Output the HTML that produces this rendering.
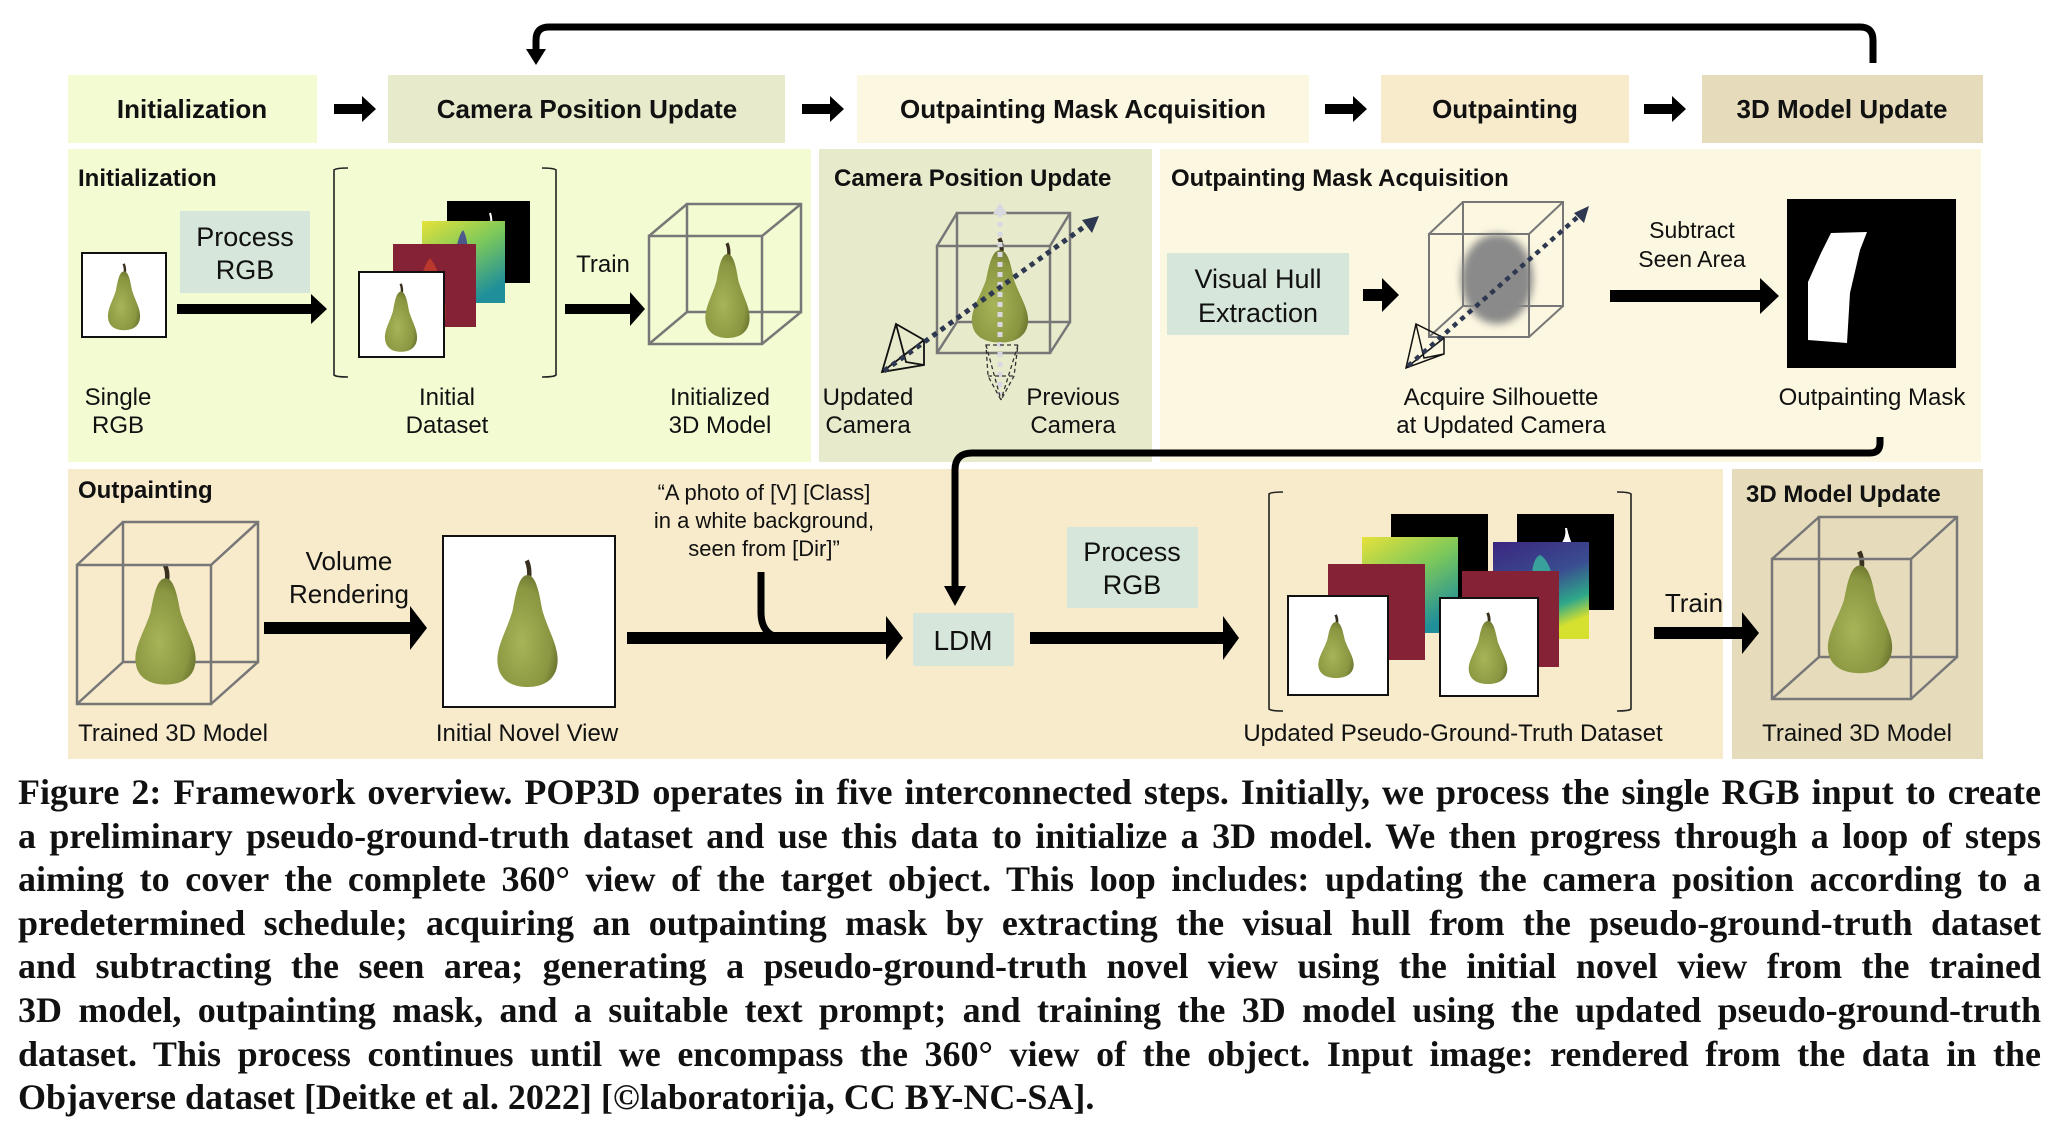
<!DOCTYPE html>
<html><head><meta charset="utf-8"><style>
html,body{margin:0;padding:0;background:#fff;}
body{width:2052px;height:1134px;position:relative;overflow:hidden;}
svg{position:absolute;left:0;top:0;}
svg text{font-family:"Liberation Sans",Arial,sans-serif;fill:#111;}
.cap{position:absolute;left:18px;width:2023px;top:771px;font-family:"Liberation Serif",serif;font-weight:bold;font-size:36px;line-height:43.6px;color:#111;}
.cap div{text-align:justify;text-align-last:justify;white-space:nowrap;}
.cap div.last{text-align-last:left;}
</style></head><body>
<svg width="2052" height="1134" viewBox="0 0 2052 1134" xmlns="http://www.w3.org/2000/svg">
<defs>
<radialGradient id="pg" cx="0.4" cy="0.6" r="0.7">
<stop offset="0" stop-color="#a8b458"/><stop offset="0.7" stop-color="#8a9640"/><stop offset="1" stop-color="#5e6628"/>
</radialGradient>
<g id="pear">
<path d="M49,2 C52,8 53,16 52,24" stroke="#3a3020" stroke-width="6" fill="none"/>
<path d="M50,20 C38,20 34,45 30,65 C22,90 8,110 10,130 C12,152 30,160 50,160 C70,160 88,152 90,130 C92,110 78,90 70,65 C66,45 62,20 50,20 Z" fill="url(#pg)"/>
</g>
<linearGradient id="yg" x1="0" y1="0" x2="0.6" y2="1"><stop offset="0" stop-color="#e6e23a"/><stop offset="0.5" stop-color="#7cc85a"/><stop offset="1" stop-color="#1f8f9a"/></linearGradient>
<linearGradient id="vg" x1="0" y1="0" x2="0.4" y2="1"><stop offset="0" stop-color="#3b2680"/><stop offset="0.5" stop-color="#3a4d90"/><stop offset="0.8" stop-color="#2ea88a"/><stop offset="1" stop-color="#d6e02e"/></linearGradient>
<filter id="bl"><feGaussianBlur stdDeviation="4"/></filter>
</defs>

<path d="M1873,63 V40 Q1873,27 1860,27 H549 Q536,27 536,40 V50" stroke="#000" stroke-width="7" fill="none"/>
<polygon points="526,49 546,49 536,65" fill="#000"/>

<rect x="68" y="75" width="249" height="68" fill="#f3fbd3"/>
<rect x="388" y="75" width="397" height="68" fill="#e8ebcb"/>
<rect x="857" y="75" width="452" height="68" fill="#fcf7e0"/>
<rect x="1381" y="75" width="248" height="68" fill="#f8ebcc"/>
<rect x="1702" y="75" width="281" height="68" fill="#e6dcbc"/>
<g font-size="26" font-weight="bold" text-anchor="middle">
<text x="192" y="118">Initialization</text>
<text x="587" y="118">Camera Position Update</text>
<text x="1083" y="118">Outpainting Mask Acquisition</text>
<text x="1505" y="118">Outpainting</text>
<text x="1842" y="118">3D Model Update</text>
</g>
<g fill="#000">
<polygon points="334,104 362,104 362,96 376,109 362,122 362,114 334,114"/>
<polygon points="802,104 830,104 830,96 844,109 830,122 830,114 802,114"/>
<polygon points="1325,104 1353,104 1353,96 1367,109 1353,122 1353,114 1325,114"/>
<polygon points="1644,104 1672,104 1672,96 1686,109 1672,122 1672,114 1644,114"/>
</g>

<rect x="68" y="149" width="743" height="313" fill="#f3fbd3"/>
<rect x="819" y="149" width="333" height="313" fill="#e8ebcb"/>
<rect x="1160" y="149" width="821" height="313" fill="#fcf7e0"/>

<g font-size="24" font-weight="bold">
<text x="78" y="186">Initialization</text>
<text x="834" y="186">Camera Position Update</text>
<text x="1171" y="186">Outpainting Mask Acquisition</text>
</g>

<rect x="82" y="253" width="84" height="84" fill="#fff" stroke="#111" stroke-width="2"/>
<use href="#pear" transform="translate(104,263) scale(0.4,0.42)"/>
<rect x="180" y="211" width="130" height="82" fill="#d6e6da"/>
<text x="245" y="246" font-size="27" text-anchor="middle">Process</text>
<text x="245" y="279" font-size="27" text-anchor="middle">RGB</text>
<polygon points="177,304 311,304 311,294 327,309 311,324 311,314 177,314" fill="#000"/>
<path d="M348,168 Q336,168 334,170 V375 Q336,377 348,377 M542,168 Q554,168 556,170 V375 Q554,377 542,377" stroke="#222" stroke-width="1.6" fill="none"/>
<rect x="447" y="201" width="83" height="82" fill="#000"/>
<path d="M490,213 q2,6 1,12" stroke="#fff" stroke-width="2"/>
<rect x="422" y="221" width="83" height="82" fill="url(#yg)"/>
<path d="M463,230 C455,240 452,270 460,300 L470,300 C468,270 470,240 463,230Z" fill="#3a3a9a" opacity="0.8"/>
<rect x="393" y="244" width="83" height="83" fill="#862235"/>
<path d="M430,258 C420,270 415,300 425,322 L445,322 C448,300 440,270 430,258Z" fill="#c8402a" opacity="0.8"/>
<rect x="359" y="272" width="85" height="85" fill="#fff" stroke="#111" stroke-width="2"/>
<use href="#pear" transform="translate(381,283) scale(0.4,0.43)"/>
<text x="603" y="272" font-size="24" text-anchor="middle">Train</text>
<polygon points="565,304 630,304 630,292 645,309 630,326 630,314 565,314" fill="#000"/>
<g stroke="#777" stroke-width="2.5" fill="none">
<rect x="687" y="204" width="114" height="108"/>
<rect x="649" y="236" width="113" height="108"/>
<path d="M649,236 L687,204 M762,236 L801,204 M649,344 L687,312 M762,344 L801,312"/>
</g>
<use href="#pear" transform="translate(700,242) scale(0.55,0.6)"/>
<g font-size="24" text-anchor="middle">
<text x="118" y="405">Single</text><text x="118" y="433">RGB</text>
<text x="447" y="405">Initial</text><text x="447" y="433">Dataset</text>
<text x="720" y="405">Initialized</text><text x="720" y="433">3D Model</text>
</g>

<g stroke="#777" stroke-width="2.5" fill="none">
<rect x="957" y="213" width="113" height="109"/>
</g>
<use href="#pear" transform="translate(965,237) scale(0.7,0.66)"/>
<g stroke="#777" stroke-width="2.5" fill="none">
<rect x="937" y="246" width="113" height="107"/>
<path d="M937,246 L957,213 M1050,246 L1070,213 M937,353 L957,322 M1050,353 L1070,322"/>
</g>
<line x1="1000" y1="212" x2="1000" y2="395" stroke="#d8d8e0" stroke-width="5" stroke-dasharray="5,5"/>
<polygon points="993,214 1007,214 1000,203" fill="#d8d8e0"/>
<path d="M986,345 H1018 L1014,376 L1001,400 L988,376 Z M986,345 L1001,400 M1018,345 L1001,400 M988,376 L1014,376" stroke="#333" stroke-width="1.3" stroke-dasharray="4,3" fill="none"/>
<path d="M882,372 L896,324 L924,340 L924,365 Z M882,372 L924,340 M896,324 L906,362 L924,365" stroke="#111" stroke-width="1.8" fill="none"/>
<line x1="884" y1="371" x2="1088" y2="224" stroke="#2e3850" stroke-width="5" stroke-dasharray="5,5"/>
<polygon points="1099,216 1082,220 1092,233" fill="#2e3850"/>
<g font-size="24" text-anchor="middle">
<text x="868" y="405">Updated</text><text x="868" y="433">Camera</text>
<text x="1073" y="405">Previous</text><text x="1073" y="433">Camera</text>
</g>

<rect x="1167" y="253" width="182" height="82" fill="#d6e6da"/>
<text x="1258" y="288" font-size="27" text-anchor="middle">Visual Hull</text>
<text x="1258" y="322" font-size="27" text-anchor="middle">Extraction</text>
<polygon points="1363,289 1382,289 1382,278 1399,295 1382,312 1382,301 1363,301" fill="#000"/>
<g stroke="#777" stroke-width="2" fill="none">
<rect x="1463" y="202" width="100" height="104"/>
</g>
<ellipse cx="1497" cy="279" rx="36" ry="45" fill="#8a8a8a" filter="url(#bl)"/>
<g stroke="#777" stroke-width="2" fill="none">
<rect x="1429" y="234" width="100" height="103"/>
<path d="M1429,234 L1463,202 M1529,234 L1563,202 M1429,337 L1463,306 M1529,337 L1563,306"/>
</g>
<path d="M1406,368 L1416,324 L1444,338 L1444,354 Z M1406,368 L1444,338 M1416,324 L1424,358 L1444,354" stroke="#111" stroke-width="1.5" fill="none"/>
<line x1="1408" y1="366" x2="1580" y2="215" stroke="#2e3850" stroke-width="4.5" stroke-dasharray="5,5"/>
<polygon points="1589,206 1574,213 1584,223" fill="#2e3850"/>
<text x="1692" y="238" font-size="23" text-anchor="middle">Subtract</text>
<text x="1692" y="267" font-size="23" text-anchor="middle">Seen Area</text>
<polygon points="1610,290 1760,290 1760,278 1779,296 1760,314 1760,302 1610,302" fill="#000"/>
<rect x="1787" y="199" width="169" height="169" fill="#000"/>
<polygon points="1831,233 1867,232 1860,250 1850,293 1847,343 1808,340 1808,282 1821,253" fill="#fff"/>
<g font-size="24" text-anchor="middle">
<text x="1501" y="405">Acquire Silhouette</text><text x="1501" y="433">at Updated Camera</text>
<text x="1872" y="405">Outpainting Mask</text>
</g>

<rect x="68" y="469" width="1655" height="290" fill="#f8ebcc"/>
<rect x="1732" y="469" width="251" height="290" fill="#e6dcbc"/>

<path d="M1880,437 V443 Q1880,453 1870,453 H972 Q955,453 955,470 V588" stroke="#000" stroke-width="7" fill="none"/>
<polygon points="944,586 966,586 955,606" fill="#000"/>

<g font-size="24" font-weight="bold">
<text x="78" y="498">Outpainting</text>
<text x="1746" y="502">3D Model Update</text>
</g>
<g stroke="#777" stroke-width="2.5" fill="none">
<rect x="123" y="522" width="135" height="140"/>
</g>
<use href="#pear" transform="translate(128,563) scale(0.75,0.76)"/>
<g stroke="#777" stroke-width="2.5" fill="none">
<rect x="77" y="565" width="134" height="139"/>
<path d="M77,565 L123,522 M211,565 L258,522 M77,704 L123,662 M211,704 L258,662"/>
</g>
<text x="349" y="570" font-size="26" text-anchor="middle">Volume</text>
<text x="349" y="603" font-size="26" text-anchor="middle">Rendering</text>
<polygon points="264,622 410,622 410,606 427,628 410,650 410,634 264,634" fill="#000"/>
<rect x="443" y="536" width="172" height="171" fill="#fff" stroke="#111" stroke-width="2"/>
<use href="#pear" transform="translate(490,559) scale(0.75,0.8)"/>
<g font-size="24" text-anchor="middle">
<text x="173" y="741">Trained 3D Model</text>
<text x="527" y="741">Initial Novel View</text>
</g>
<g font-size="22" text-anchor="middle">
<text x="764" y="500">“A photo of [V] [Class]</text>
<text x="764" y="528">in a white background,</text>
<text x="764" y="556">seen from [Dir]”</text>
</g>
<path d="M761,572 V612 Q761,638 786,638" stroke="#000" stroke-width="7" fill="none"/>
<polygon points="627,632 886,632 886,616 903,638 886,660 886,644 627,644" fill="#000"/>
<rect x="913" y="613" width="101" height="53" fill="#d6e6da"/>
<text x="963" y="650" font-size="28" text-anchor="middle">LDM</text>
<rect x="1067" y="527" width="131" height="81" fill="#d6e6da"/>
<text x="1132" y="561" font-size="27" text-anchor="middle">Process</text>
<text x="1132" y="594" font-size="27" text-anchor="middle">RGB</text>
<polygon points="1030,632 1223,632 1223,616 1239,638 1223,660 1223,644 1030,644" fill="#000"/>
<path d="M1283,492 Q1271,492 1269,494 V709 Q1271,711 1283,711 M1617,492 Q1629,492 1631,494 V709 Q1629,711 1617,711" stroke="#222" stroke-width="1.6" fill="none"/>
<rect x="1391" y="514" width="97" height="96" fill="#000"/>
<rect x="1517" y="514" width="97" height="96" fill="#000"/>
<path d="M1565,528 q2,10 -6,18 h14 q-4,-8 -6,-18z" fill="#fff"/>
<rect x="1362" y="537" width="96" height="96" fill="url(#yg)"/>
<rect x="1493" y="542" width="96" height="97" fill="url(#vg)"/>
<path d="M1540,555 C1528,560 1530,600 1540,620 L1555,620 C1560,600 1552,560 1540,555Z" fill="#39b8a0" opacity="0.8"/>
<rect x="1328" y="564" width="97" height="96" fill="#862235"/>
<rect x="1462" y="571" width="97" height="96" fill="#862235"/>
<rect x="1288" y="596" width="100" height="99" fill="#fff" stroke="#111" stroke-width="2"/>
<use href="#pear" transform="translate(1314,614) scale(0.44,0.4)"/>
<rect x="1440" y="598" width="98" height="98" fill="#fff" stroke="#111" stroke-width="2"/>
<use href="#pear" transform="translate(1464,612) scale(0.48,0.45)"/>
<text x="1453" y="741" font-size="24" text-anchor="middle">Updated Pseudo-Ground-Truth Dataset</text>
<text x="1694" y="612" font-size="26" text-anchor="middle">Train</text>
<polygon points="1654,627 1742,627 1742,612 1759,633 1742,654 1742,639 1654,639" fill="#000"/>
<g stroke="#777" stroke-width="2.5" fill="none">
<rect x="1819" y="517" width="138" height="140"/>
</g>
<use href="#pear" transform="translate(1820,550) scale(0.8,0.77)"/>
<g stroke="#777" stroke-width="2.5" fill="none">
<rect x="1772" y="559" width="139" height="140"/>
<path d="M1772,559 L1819,517 M1911,559 L1957,517 M1772,699 L1819,657 M1911,699 L1957,657"/>
</g>
<text x="1857" y="741" font-size="24" text-anchor="middle">Trained 3D Model</text>
</svg>
<div class="cap">
<div>Figure 2: Framework overview. POP3D operates in five interconnected steps. Initially, we process the single RGB input to create</div>
<div>a preliminary pseudo-ground-truth dataset and use this data to initialize a 3D model. We then progress through a loop of steps</div>
<div>aiming to cover the complete 360° view of the target object. This loop includes: updating the camera position according to a</div>
<div>predetermined schedule; acquiring an outpainting mask by extracting the visual hull from the pseudo-ground-truth dataset</div>
<div>and subtracting the seen area; generating a pseudo-ground-truth novel view using the initial novel view from the trained</div>
<div>3D model, outpainting mask, and a suitable text prompt; and training the 3D model using the updated pseudo-ground-truth</div>
<div>dataset. This process continues until we encompass the 360° view of the object. Input image: rendered from the data in the</div>
<div class="last">Objaverse dataset [Deitke et al. 2022] [©laboratorija, CC BY-NC-SA].</div>
</div>
</body></html>
